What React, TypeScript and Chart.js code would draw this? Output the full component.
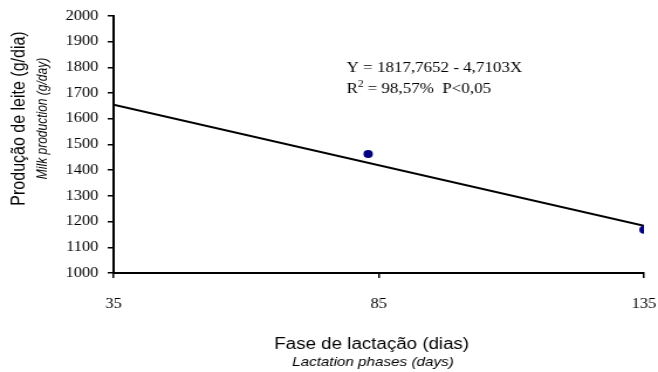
import React, { useEffect, useRef } from "react";
import { Chart, registerables } from "chart.js";

Chart.register(...registerables);

// ---- data ----
const phaseDays = [83, 135];
const milkProduction = [1463, 1168];
const fitDays = [35, 135];
const fitValues = [1655, 1184];
const xMin = 35;
const xMax = 135;
const xStep = 50;
const yMin = 1000;
const yMax = 2000;
const yStep = 100;

const yTitleMain = "Produção de leite (g/dia)";
const yTitleSub = "Milk production (g/day)";
const xTitleMain = "Fase de lactação (dias)";
const xTitleSub = "Lactation phases (days)";
const equationLine = "Y = 1817,7652 - 4,7103X";
const r2Base = "R";
const r2Sup = "2";
const r2Rest = " = 98,57%  P<0,05";

// the reference is horizontally stretched; render narrower and stretch with CSS
const CSS_W = 658;
const CSS_H = 372;
const INNER_W = 562;

const SANS = '"Liberation Sans", Arial, sans-serif';
const SERIF = '"Liberation Serif", "Times New Roman", serif';

const textPlugin = {
  id: "customText",
  afterDraw(chart: any) {
    const ctx = chart.ctx as CanvasRenderingContext2D;
    ctx.save();
    ctx.fillStyle = "#000";

    // Y axis title (rotated)
    ctx.save();
    ctx.translate(21, 118.5);
    ctx.rotate(-Math.PI / 2);
    ctx.textAlign = "center";
    ctx.textBaseline = "alphabetic";
    ctx.font = `16px ${SANS}`;
    ctx.fillText(yTitleMain, 0, 0);
    ctx.font = `italic 12px ${SANS}`;
    ctx.fillText(yTitleSub, 0, 19);
    ctx.restore();

    // X axis title
    ctx.textAlign = "center";
    ctx.textBaseline = "alphabetic";
    ctx.font = `16px ${SANS}`;
    ctx.fillText(xTitleMain, 317.5, 349);
    ctx.font = `italic 13px ${SANS}`;
    ctx.fillText(xTitleSub, 318.5, 366);

    // regression equation
    ctx.textAlign = "left";
    ctx.font = `14.5px ${SERIF}`;
    const ex = 296;
    ctx.fillText(equationLine, ex, 71.5);
    ctx.fillText(r2Base, ex, 93);
    const rw = ctx.measureText(r2Base).width;
    ctx.font = `9.5px ${SERIF}`;
    ctx.fillText(r2Sup, ex + rw, 87);
    const sw = ctx.measureText(r2Sup).width;
    ctx.font = `14.5px ${SERIF}`;
    ctx.fillText(r2Rest, ex + rw + sw, 93);

    ctx.restore();
  },
};

export default function App() {
  const canvasRef = useRef<HTMLCanvasElement | null>(null);

  useEffect(() => {
    const canvas = canvasRef.current;
    if (!canvas) return;
    const points = phaseDays.map((x, i) => ({ x, y: milkProduction[i] }));
    const fit = fitDays.map((x, i) => ({ x, y: fitValues[i] }));

    const chart = new Chart(canvas, {
      type: "scatter",
      data: {
        datasets: [
          {
            label: "fit",
            data: fit,
            showLine: true,
            borderColor: "#000",
            borderWidth: 2,
            pointRadius: 0,
            pointHoverRadius: 0,
            fill: false,
            order: 2,
          },
          {
            label: "obs",
            data: points,
            showLine: false,
            pointRadius: 4,
            pointHoverRadius: 4,
            backgroundColor: "#000080",
            borderColor: "#000080",
            borderWidth: 0,
            order: 1,
          },
        ],
      },
      options: {
        responsive: false,
        animation: false,
        devicePixelRatio: 1,
        layout: { padding: { top: 16, right: 12, left: 0, bottom: 0 } },
        plugins: {
          legend: { display: false },
          tooltip: { enabled: false },
        },
        scales: {
          x: {
            type: "linear",
            min: xMin,
            max: xMax,
            afterFit: (scale: any) => {
              scale.height = 99;
              scale.paddingLeft = 0;
              scale.paddingRight = 0;
            },
            ticks: {
              stepSize: xStep,
              color: "#000",
              font: { family: SERIF, size: 14 },
              padding: 18,
              maxRotation: 0,
              callback: (v: any) => String(v),
            },
            grid: {
              drawOnChartArea: false,
              drawTicks: true,
              tickLength: 5,
              color: "#000",
              lineWidth: 1.5,
            },
            border: { display: true, color: "#000", width: 2 },
          },
          y: {
            type: "linear",
            min: yMin,
            max: yMax,
            afterFit: (scale: any) => {
              scale.width = 97;
              scale.paddingTop = 0;
              scale.paddingBottom = 0;
            },
            ticks: {
              stepSize: yStep,
              color: "#000",
              font: { family: SERIF, size: 14 },
              padding: 8,
              callback: (v: any) => String(v),
            },
            grid: {
              drawOnChartArea: false,
              drawTicks: true,
              tickLength: 5,
              color: "#000",
              lineWidth: 1.5,
            },
            border: { display: true, color: "#000", width: 2 },
          },
        },
      },
      plugins: [textPlugin],
    } as any);

    return () => chart.destroy();
  }, []);

  return (
    <div
      style={{
        position: "fixed",
        left: 0,
        top: 0,
        width: CSS_W,
        height: CSS_H,
        background: "#fff",
      }}
    >
      <canvas
        ref={canvasRef}
        width={INNER_W}
        height={CSS_H}
        style={{ width: `${CSS_W}px`, height: `${CSS_H}px`, display: "block" }}
      />
    </div>
  );
}
